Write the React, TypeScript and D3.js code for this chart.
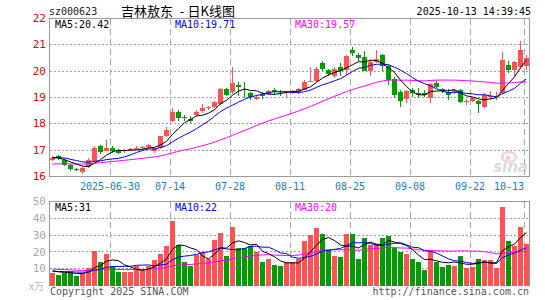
import React, { useEffect, useRef } from "react";
import * as d3 from "d3";

// 80 trading days, 2025-06-16 .. 2025-10-13
const dates = (
  "06-16 06-17 06-18 06-19 06-20 06-23 06-24 06-25 06-26 06-27 06-30 " +
  "07-01 07-02 07-03 07-04 07-07 07-08 07-09 07-10 07-11 07-14 07-15 07-16 07-17 07-18 " +
  "07-21 07-22 07-23 07-24 07-25 07-28 07-29 07-30 07-31 08-01 08-04 08-05 08-06 08-07 08-08 " +
  "08-11 08-12 08-13 08-14 08-15 08-18 08-19 08-20 08-21 08-22 08-25 08-26 08-27 08-28 08-29 " +
  "09-01 09-02 09-03 09-04 09-05 09-08 09-09 09-10 09-11 09-12 09-15 09-16 09-17 09-18 09-19 " +
  "09-22 09-23 09-24 09-25 09-26 09-29 09-30 10-09 10-10 10-13"
).split(" ");

const open = [
  16.62, 16.76, 16.64, 16.43, 16.27, 16.15, 16.38, 16.62, 17.14, 16.99,
  17.1, 16.98, 16.95, 16.99, 17.06, 17.08, 17.1, 16.96, 17.08, 17.55,
  18.12, 18.46, 18.25, 18.2, 18.34, 18.46, 18.6, 18.65, 18.75, 19.31,
  19.22, 19.47, 19.31, 19.18, 18.94, 19.13, 19.13, 19.28, 19.26, 19.2,
  19.24, 19.2, 19.31, 19.6, 19.6, 20.3, 20.04, 19.85, 20.14, 20.04,
  20.8, 20.61, 20.55, 20.0, 20.32, 20.6, 20.2, 19.72, 19.22, 18.97,
  19.28, 19.18, 19.16, 18.97, 19.54, 19.31, 19.22, 19.2, 19.28, 18.84,
  18.88, 18.88, 18.65, 19.03, 19.02, 19.16, 20.23, 20.04, 20.17, 20.19,
];
const high = [
  16.76, 16.8, 16.68, 16.48, 16.33, 16.36, 16.72, 17.15, 17.2, 17.4,
  17.15, 17.05, 17.05, 17.1, 17.15, 17.16, 17.22, 17.1, 17.55, 17.88,
  18.59, 18.52, 18.35, 18.3, 18.52, 18.75, 18.68, 18.88, 19.35, 19.36,
  20.17, 19.6, 19.6, 19.22, 19.1, 19.2, 19.3, 19.35, 19.3, 19.26,
  19.3, 19.35, 19.66, 20.14, 20.17, 20.4, 20.1, 20.17, 20.32, 20.62,
  20.92, 20.68, 20.75, 20.42, 20.8, 20.65, 20.24, 19.78, 19.28, 19.3,
  19.35, 19.35, 19.28, 19.54, 19.64, 19.35, 19.31, 19.31, 19.31, 18.93,
  19.03, 18.9, 19.16, 19.25, 19.22, 20.73, 20.38, 20.4, 21.14, 20.6,
];
const low = [
  16.58, 16.64, 16.4, 16.2, 16.2, 16.09, 16.34, 16.58, 16.84, 16.96,
  16.88, 16.86, 16.9, 16.95, 17.0, 17.02, 17.06, 16.9, 17.05, 17.5,
  18.08, 18.1, 18.1, 18.05, 18.28, 18.4, 18.52, 18.62, 18.72, 19.04,
  19.15, 19.05, 18.98, 18.9, 18.9, 18.95, 19.1, 19.1, 19.05, 19.03,
  19.15, 19.15, 19.28, 19.58, 19.57, 20.0, 19.8, 19.75, 19.8, 19.85,
  20.58, 20.4, 20.0, 19.8, 20.3, 19.99, 19.48, 18.97, 18.65, 18.8,
  19.03, 18.97, 19.03, 18.78, 19.35, 19.16, 18.9, 19.13, 18.78, 18.72,
  18.84, 18.4, 18.62, 18.92, 18.92, 19.13, 19.94, 19.81, 20.1, 20.06,
];
const close = [
  16.71, 16.7, 16.45, 16.26, 16.24, 16.31, 16.64, 17.1, 16.9, 17.1,
  16.98, 16.92, 16.99, 17.05, 17.1, 17.11, 17.19, 17.07, 17.52, 17.77,
  18.46, 18.25, 18.2, 18.14, 18.46, 18.59, 18.63, 18.84, 19.31, 19.09,
  19.56, 19.41, 19.26, 19.03, 19.03, 19.07, 19.26, 19.2, 19.21, 19.22,
  19.26, 19.31, 19.6, 19.64, 20.07, 20.07, 19.89, 20.1, 19.98, 20.57,
  20.67, 20.48, 20.02, 20.36, 20.45, 20.2, 19.66, 19.1, 18.88, 19.26,
  19.16, 19.12, 19.07, 19.5, 19.38, 19.22, 19.12, 19.28, 18.84, 18.86,
  19.0, 18.76, 19.09, 19.05, 19.05, 20.42, 20.04, 20.36, 20.8, 20.5,
];
// volume, x万
const volume = [
  7.7, 6.4, 7.7, 8.0, 5.8, 7.7, 10.7, 20.7, 14.1, 19,
  11.7, 8.2, 8.2, 8.2, 11.7, 9, 11.7, 15.3, 19, 23.6,
  38.5, 24.2, 13.7, 11.7, 18.3, 19.8, 15.7, 27.2, 31, 17.7,
  34.9, 22.2, 22.2, 23.6, 19.8, 13.7, 15.7, 12.4, 11.7, 13.7,
  13.7, 15.7, 26.6, 30.2, 34.2, 30.6, 21, 17.7, 17.1, 30.6,
  30.6, 15.7, 28.2, 24, 24.6, 28.2, 29.6, 22.6, 20.1, 18.7,
  15.7, 13.7, 9.3, 20.7, 14.1, 11.1, 12.4, 11.7, 17.7, 10.3,
  11.1, 15.7, 14.9, 15.3, 10.7, 47, 26.6, 23.6, 34.9, 25,
];
// the 29 sessions before the window, only used to seed the moving averages
const priorCloses = [
  16.42, 16.38, 16.35, 16.4, 16.36, 16.33, 16.38, 16.35, 16.37, 16.34,
  16.3, 16.28, 16.32, 16.35, 16.3, 16.33, 16.36, 16.34, 16.35, 16.39,
  16.58, 16.66, 16.72, 16.76, 16.78, 16.8, 16.75, 16.7, 16.64,
];
const priorVolumes = [
  12.5, 11.8, 12.0, 12.3, 11.9, 12.1, 12.2, 11.8, 12.0, 11.9,
  9.0, 8.6, 8.9, 9.1, 8.7, 8.8, 9.0, 8.6, 8.9, 8.9,
  8.0, 8.5, 8.2, 8.3, 8.25, 9.5, 9.2, 8.8, 8.55,
];

// values printed in the legends
const priceMaLabels = ["MA5:20.42", "MA10:19.71", "MA30:19.57"];
const volumeMaLabels = ["MA5:31", "MA10:22", "MA30:20"];

const priceTicks = [16, 17, 18, 19, 20, 21, 22];
const volumeTicks = [10, 20, 30, 40, 50];
const tickDates = ["06-30", "07-14", "07-28", "08-11", "08-25", "09-08", "09-22", "10-13"];
const tickLabels = ["2025-06-30", "07-14", "07-28", "08-11", "08-25", "09-08", "09-22", "10-13"];

const RED = "#ff5252";
const GREEN = "#009c00";
const MONO = "'DejaVu Sans Mono', monospace";
const CJK = "'Noto Sans CJK SC', sans-serif";

const movingAvg = (prior: number[], vals: number[], n: number) => {
  const all = prior.concat(vals);
  const off = prior.length;
  return vals.map((_, i) => d3.mean(all.slice(off + i - n + 1, off + i + 1)) as number);
};

export default function App() {
  const ref = useRef<SVGSVGElement>(null);

  useEffect(() => {
    const svg = d3.select(ref.current);
    svg.selectAll("*").remove();

    const left = 50;
    const right = 529.5;
    const pTop = 18.5;
    const pBottom = 176.5;
    const vTop = 201.5;
    const vBottom = 285.5;

    const x = d3.scaleBand<string>().domain(dates).range([50, 529]).paddingInner(1 / 6).paddingOuter(0);
    const cx = (i: number) => (x(dates[i]) as number) + 2.5;
    const yP = d3.scaleLinear().domain([16, 22]).range([pBottom, pTop]);
    const yV = d3.scaleLinear().domain([0, 50]).range([vBottom, vTop]);
    const snap = (v: number) => Math.round(v - 0.5) + 0.5;

    // grid
    const grid = svg.append("g").attr("shape-rendering", "crispEdges");
    grid
      .append("g")
      .selectAll("line")
      .data(priceTicks.slice(1, -1))
      .join("line")
      .attr("x1", left)
      .attr("x2", right)
      .attr("y1", (d) => snap(yP(d)))
      .attr("y2", (d) => snap(yP(d)))
      .attr("stroke", "#a0a0a0")
      .attr("stroke-dasharray", "2,2");
    grid
      .append("g")
      .selectAll("line")
      .data(volumeTicks.slice(0, -1))
      .join("line")
      .attr("x1", left)
      .attr("x2", right)
      .attr("y1", (d) => snap(yV(d)))
      .attr("y2", (d) => snap(yV(d)))
      .attr("stroke", "#a0a0a0")
      .attr("stroke-dasharray", "2,2");
    [
      [pTop, pBottom],
      [vTop, vBottom],
    ].forEach(([a, b]) => {
      grid
        .append("g")
        .selectAll("line")
        .data(tickDates)
        .join("line")
        .attr("x1", (d) => (x(d) as number) + 0.5)
        .attr("x2", (d) => (x(d) as number) + 0.5)
        .attr("y1", a)
        .attr("y2", b)
        .attr("stroke", "#a8a8a8")
        .attr("stroke-dasharray", "6,4");
    });

    // candles
    const up = (i: number) => close[i] >= open[i];
    const cg = svg.append("g").attr("shape-rendering", "crispEdges");
    cg.selectAll("line")
      .data(dates)
      .join("line")
      .attr("x1", (_, i) => cx(i))
      .attr("x2", (_, i) => cx(i))
      .attr("y1", (_, i) => Math.round(yP(high[i])))
      .attr("y2", (_, i) => Math.round(yP(low[i])))
      .attr("stroke", (_, i) => (up(i) ? RED : GREEN));
    cg.selectAll("rect")
      .data(dates)
      .join("rect")
      .attr("x", (d) => x(d) as number)
      .attr("width", x.bandwidth())
      .attr("y", (_, i) => Math.round(yP(Math.max(open[i], close[i]))))
      .attr("height", (_, i) => Math.max(1, Math.round(Math.abs(yP(open[i]) - yP(close[i])))))
      .attr("fill", (_, i) => (up(i) ? RED : GREEN));

    // volume bars
    svg
      .append("g")
      .attr("shape-rendering", "crispEdges")
      .selectAll("rect")
      .data(volume)
      .join("rect")
      .attr("x", (_, i) => x(dates[i]) as number)
      .attr("width", x.bandwidth())
      .attr("y", (d) => Math.round(yV(d)))
      .attr("height", (d) => vBottom - Math.round(yV(d)))
      .attr("fill", (_, i) => (up(i) ? RED : GREEN));

    // moving averages
    const maColors: [number, string][] = [
      [30, "#ff00ff"],
      [10, "#0000ff"],
      [5, "#000000"],
    ];
    maColors.forEach(([n, c]) => {
      const mp = movingAvg(priorCloses, close, n);
      const mv = movingAvg(priorVolumes, volume, n);
      svg
        .append("path")
        .attr("d", d3.line<number>().x((_, i) => cx(i)).y((d) => yP(d))(mp))
        .attr("fill", "none")
        .attr("stroke", c)
        .attr("stroke-width", 1);
      svg
        .append("path")
        .attr("d", d3.line<number>().x((_, i) => cx(i)).y((d) => yV(d))(mv))
        .attr("fill", "none")
        .attr("stroke", c)
        .attr("stroke-width", 1);
    });

    // frames
    const fr = svg.append("g").attr("fill", "none").attr("stroke", "#9a9a9a").attr("shape-rendering", "crispEdges");
    fr.append("rect").attr("x", 49.5).attr("y", pTop).attr("width", right - 49.5).attr("height", pBottom - pTop);
    fr.append("path").attr("d", `M49.5,${vBottom}V${vTop}H${right}V${vBottom}`);

    // watermark
    const wm = svg.append("g").attr("opacity", 0.45);
    wm.append("ellipse").attr("cx", 509).attr("cy", 157).attr("rx", 7).attr("ry", 5).attr("fill", "none").attr("stroke", "#f0a0a0").attr("stroke-width", 2.5);
    wm.append("circle").attr("cx", 508).attr("cy", 158).attr("r", 2).attr("fill", "#e08080");
    wm.append("text")
      .attr("x", 528)
      .attr("y", 172)
      .attr("text-anchor", "end")
      .attr("font-family", "'DejaVu Sans', sans-serif")
      .attr("font-style", "italic")
      .attr("font-weight", "bold")
      .attr("font-size", 15)
      .attr("fill", "#b0b0b0")
      .text("sina");

    const txt = (s: string, tx: number, ty: number, fill: string, anchor = "start", size = 10, fam = MONO) =>
      svg
        .append("text")
        .attr("x", tx)
        .attr("y", ty)
        .attr("text-anchor", anchor)
        .attr("font-family", fam)
        .attr("font-size", size)
        .attr("fill", fill)
        .text(s);

    // axis labels
    priceTicks.forEach((t) => txt(String(t), 46, yP(t) + 3.6, "#e00000", "end", 11));
    volumeTicks.forEach((t) => txt(String(t), 46, yV(t) + 3.6, "#a8a8a8", "end", 11));
    txt("x万", 44, 289.5, "#b8b8b8", "end", 10, CJK);
    tickDates.forEach((d, k) => {
      const last = k === tickDates.length - 1;
      txt(tickLabels[k], x(d) as number, 189.5, "#0a7fcf", last ? "end" : "middle");
    });

    // header
    txt("sz000623", 49, 15, "#222");
    txt("吉林敖东", 121, 16, "#000", "start", 13, CJK);
    txt("-", 182, 16, "#000", "middle", 13, CJK);
    txt("日K线图", 235, 16, "#000", "end", 13, CJK);
    txt("2025-10-13 14:39:45", 531, 15, "#000", "end");

    // MA labels
    const maX = [55, 175, 295];
    const maFill = ["#000", "#0000ff", "#ff00ff"];
    priceMaLabels.forEach((s, k) => txt(s, maX[k], 28, maFill[k]));
    volumeMaLabels.forEach((s, k) => txt(s, maX[k], 210.5, maFill[k]));

    // footer
    txt("Copyright 2025 SINA.COM", 50, 295, "#555");
    txt("http://finance.sina.com.cn", 529, 295, "#555", "end");
  }, []);

  return (
    <div style={{ position: "fixed", left: 0, top: 0 }}>
      <svg ref={ref} width={545} height={300} style={{ display: "block", background: "#fff" }} />
    </div>
  );
}
